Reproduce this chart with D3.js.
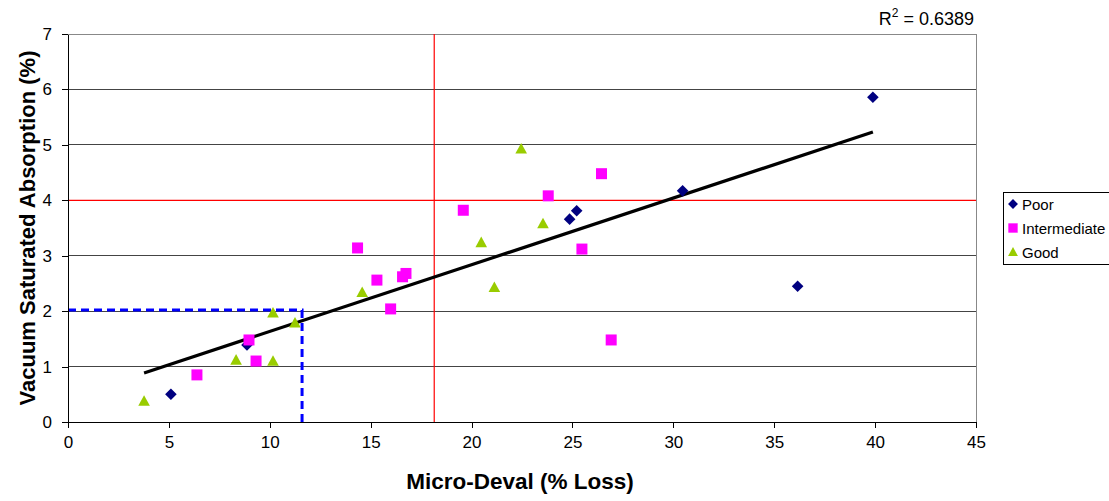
<!DOCTYPE html>
<html>
<head>
<meta charset="utf-8">
<script src="https://cdn.jsdelivr.net/npm/d3@7"></script>
<style>
  html, body { margin: 0; padding: 0; background: #fff; }
  svg { display: block; font-family: "Liberation Sans", Arial, sans-serif; }
</style>
</head>
<body>
<svg id="chart" width="1109" height="501"></svg>
<script>
// Micro-Deval loss vs. vacuum saturated absorption, grouped by performance rating
const poorX = [5.10, 8.87, 24.86, 25.21, 30.46, 36.16, 39.89];
const poorY = [0.50, 1.39, 3.66, 3.81, 4.17, 2.45, 5.86];

const intermediateX = [6.39, 8.97, 9.32, 14.35, 15.31, 15.99, 16.58, 16.75, 19.59, 23.80, 25.47, 26.44, 26.92];
const intermediateY = [0.85, 1.48, 1.10, 3.14, 2.56, 2.04, 2.62, 2.68, 3.82, 4.08, 3.12, 4.48, 1.48];

const goodX = [3.77, 8.33, 10.16, 10.16, 11.25, 14.58, 20.48, 21.13, 22.46, 23.54];
const goodY = [0.38, 1.12, 1.10, 1.97, 1.79, 2.34, 3.24, 2.43, 4.93, 3.58];

const seriesNames = ["Poor", "Intermediate", "Good"];
const xTicks = [0, 5, 10, 15, 20, 25, 30, 35, 40, 45];
const yTicks = [0, 1, 2, 3, 4, 5, 6, 7];
const rSquaredLabel = "0.6389";

// Threshold guides: Micro-Deval limit and absorption limit, plus the dashed corner box
const xLimit = 18.15;
const yLimit = 4;
const boxX = 11.6;
const boxY = 2.02;

const svg = d3.select("#chart");
const W = 1109, H = 501;
const margin = { left: 68, top: 34, right: W - 976, bottom: H - 422 };

const x = d3.scaleLinear().domain([0, 45]).range([margin.left, W - margin.right]);
const y = d3.scaleLinear().domain([0, 7]).range([H - margin.bottom, margin.top]);

const series = [
  { name: seriesNames[0], xs: poorX, ys: poorY, color: "#000080", shape: "diamond" },
  { name: seriesNames[1], xs: intermediateX, ys: intermediateY, color: "#ff00ff", shape: "square" },
  { name: seriesNames[2], xs: goodX, ys: goodY, color: "#99cc00", shape: "triangle" }
];

function markerPath(shape) {
  if (shape === "diamond") return "M0,-5.8L5.8,0L0,5.8L-5.8,0Z";
  if (shape === "square") return "M-5.5,-5.5L5.5,-5.5L5.5,5.5L-5.5,5.5Z";
  return "M0,-5.8L5.8,4.8L-5.8,4.8Z";
}

const font = "Liberation Sans, Arial, sans-serif";

// Horizontal gridlines
svg.append("g").selectAll("line").data(yTicks.filter(d => d > 0)).join("line")
  .attr("x1", x(0)).attr("x2", x(45))
  .attr("y1", d => y(d)).attr("y2", d => y(d))
  .attr("stroke", d => d === 7 ? "#888" : "#444").attr("stroke-width", 1)
  .attr("shape-rendering", "crispEdges");

// Right plot border
svg.append("line")
  .attr("x1", x(45)).attr("x2", x(45)).attr("y1", y(7)).attr("y2", y(0))
  .attr("stroke", "#888").attr("shape-rendering", "crispEdges");

// Red limit lines
svg.append("line")
  .attr("x1", x(0)).attr("x2", x(45)).attr("y1", y(yLimit)).attr("y2", y(yLimit))
  .attr("stroke", "#ff0000").attr("stroke-width", 1.2);
svg.append("line")
  .attr("x1", x(xLimit)).attr("x2", x(xLimit)).attr("y1", y(7)).attr("y2", y(0))
  .attr("stroke", "#ff0000").attr("stroke-width", 1.2);

// Blue dashed box
svg.append("path")
  .attr("d", d3.line()([[x(0), y(boxY)], [x(boxX), y(boxY)], [x(boxX), y(0)]]))
  .attr("fill", "none").attr("stroke", "#0000ff").attr("stroke-width", 3)
  .attr("stroke-dasharray", "8,5");

// Axes
const xAxis = svg.append("g").attr("transform", `translate(0,${y(0)})`)
  .call(d3.axisBottom(x).tickValues(xTicks).tickSize(6).tickSizeOuter(0).tickFormat(d3.format("d")));
const yAxis = svg.append("g").attr("transform", `translate(${x(0)},0)`)
  .call(d3.axisLeft(y).tickValues(yTicks).tickSize(6).tickSizeOuter(0).tickFormat(d3.format("d")));
[xAxis, yAxis].forEach(g => {
  g.selectAll("path,line").attr("stroke", "#000").attr("shape-rendering", "crispEdges");
  g.selectAll("text").attr("font-size", 17).attr("fill", "#000").attr("font-family", font);
});
xAxis.selectAll("text").attr("y", 14).attr("dy", "0.71em");
yAxis.selectAll("text").attr("x", -16);

// Linear trendline fitted over all points
const allPts = series.flatMap(s => s.xs.map((v, i) => [v, s.ys[i]]));
const mx = d3.mean(allPts, d => d[0]), my = d3.mean(allPts, d => d[1]);
const slope = d3.sum(allPts, d => (d[0] - mx) * (d[1] - my)) / d3.sum(allPts, d => (d[0] - mx) ** 2);
const intercept = my - slope * mx;
const [xmin, xmax] = d3.extent(allPts, d => d[0]);
svg.append("line")
  .attr("x1", x(xmin)).attr("y1", y(intercept + slope * xmin))
  .attr("x2", x(xmax)).attr("y2", y(intercept + slope * xmax))
  .attr("stroke", "#000").attr("stroke-width", 3.2);

// Markers
series.forEach(s => {
  svg.append("g").selectAll("path").data(s.xs.map((v, i) => [v, s.ys[i]])).join("path")
    .attr("d", markerPath(s.shape))
    .attr("transform", d => `translate(${x(d[0])},${y(d[1])})`)
    .attr("fill", s.color);
});

// Axis titles
svg.append("text").attr("x", (x(0) + x(45)) / 2 - 2).attr("y", 489)
  .attr("text-anchor", "middle").attr("font-size", 22.5).attr("font-weight", "bold")
  .text("Micro-Deval (% Loss)");
svg.append("text").attr("transform", `translate(35,${(y(0) + y(7)) / 2}) rotate(-90)`)
  .attr("text-anchor", "middle").attr("font-size", 22).attr("font-weight", "bold")
  .text("Vacuum Saturated Absorption (%)");

// R-squared label
const r2 = svg.append("text").attr("x", 974).attr("y", 25).attr("text-anchor", "end")
  .attr("font-size", 18);
r2.append("tspan").text("R");
r2.append("tspan").attr("font-size", 12).attr("dy", -8).text("2");
r2.append("tspan").attr("dy", 8).text(" = " + rSquaredLabel);

// Legend
const lg = svg.append("g").attr("transform", "translate(1003,192)");
lg.append("rect").attr("x", 0.5).attr("y", 0.5).attr("width", 110).attr("height", 72)
  .attr("fill", "#fff").attr("stroke", "#000").attr("stroke-width", 1);
series.forEach((s, i) => {
  const row = lg.append("g").attr("transform", `translate(10,${12 + i * 24})`);
  row.append("path").attr("d", markerPath(s.shape)).attr("fill", s.color)
    .attr("transform", "scale(0.85)");
  row.append("text").attr("x", 9).attr("y", 5.5).attr("font-size", 15).text(s.name);
});
</script>
</body>
</html>
